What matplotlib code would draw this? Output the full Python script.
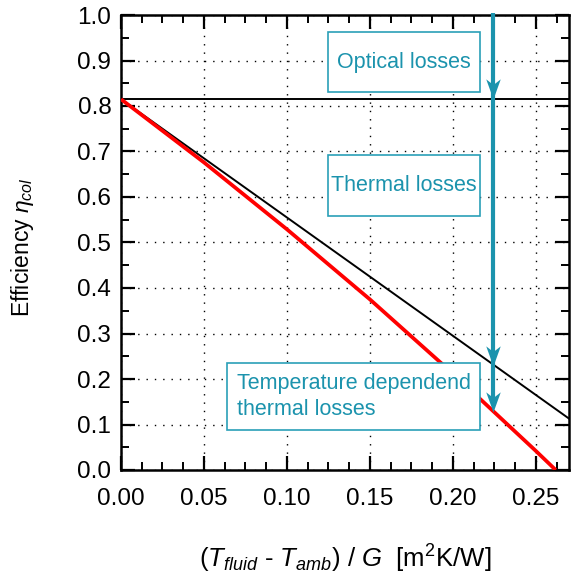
import matplotlib
matplotlib.use("Agg")
import matplotlib.pyplot as plt
from matplotlib.patches import Rectangle
from matplotlib.path import Path
from matplotlib.ticker import MultipleLocator

plt.rcParams['font.family'] = ['Liberation Sans', 'DejaVu Sans']
plt.rcParams['mathtext.fontset'] = 'custom'
plt.rcParams['mathtext.rm'] = 'Liberation Sans'
plt.rcParams['mathtext.it'] = 'Liberation Sans:italic'
plt.rcParams['mathtext.bf'] = 'Liberation Sans:bold'

# data
optical_eff = 0.815
black_x = [0.0, 0.27]
black_y = [0.815, 0.113]
red_x = [0.0, 0.05, 0.10, 0.15, 0.20, 0.25, 0.262]
red_y = [0.815, 0.676, 0.529, 0.375, 0.212, 0.042, 0.0]
arrow_x = 0.224
arrow_stops = [1.0, 0.815, 0.228, 0.128]

teal = '#1b93ad'
teal_box = '#2a9fb8'

fig = plt.figure(figsize=(5.71, 5.76), dpi=100)
ax = fig.add_axes([121/571, 106/576, 448/571, 455/576])

ax.set_xlim(0, 0.27)
ax.set_ylim(0, 1.0)

ax.axhline(optical_eff, color='black', lw=1.4, zorder=3)
ax.plot(black_x, black_y, color='black', lw=1.4, zorder=3)
ax.plot(red_x, red_y, color='#ff0000', lw=2.7, zorder=4, solid_capstyle='butt')

# text boxes
boxes = [
    (0.1247, 0.830, 0.0916, 0.133),
    (0.1247, 0.558, 0.0916, 0.134),
    (0.0639, 0.088, 0.1524, 0.147),
]
for (x0, y0, w, h) in boxes:
    ax.add_patch(Rectangle((x0, y0), w, h, facecolor='white', edgecolor=teal_box,
                           lw=1.2, zorder=5))
ax.text(0.1705, 0.896, 'Optical losses', color=teal, fontsize=15.5,
        ha='center', va='center', zorder=6)
ax.text(0.1705, 0.625, 'Thermal losses', color=teal, fontsize=15.5,
        ha='center', va='center', zorder=6)
ax.text(0.0698, 0.1615, 'Temperature dependend\nthermal losses', color=teal,
        fontsize=15.5, ha='left', va='center', zorder=6, linespacing=1.3)

# arrow
ax.plot([arrow_x, arrow_x], [1.004, arrow_stops[-1] + 0.02], color=teal,
        lw=3.0, zorder=7, clip_on=False, solid_capstyle='butt')
head = Path([(0, 0), (-0.36, 1.0), (0, 0.72), (0.36, 1.0), (0, 0)],
            [Path.MOVETO, Path.LINETO, Path.LINETO, Path.LINETO, Path.CLOSEPOLY])
for yv in arrow_stops[1:]:
    ax.plot([arrow_x], [yv], marker=head, markersize=29, color=teal,
            markeredgewidth=0, zorder=8, clip_on=False)

# ticks and grid
ax.xaxis.set_major_locator(MultipleLocator(0.05))
ax.xaxis.set_minor_locator(MultipleLocator(0.0125))
ax.yaxis.set_major_locator(MultipleLocator(0.1))
ax.yaxis.set_minor_locator(MultipleLocator(0.05))
ax.xaxis.set_major_formatter(matplotlib.ticker.FormatStrFormatter('%.2f'))
ax.yaxis.set_major_formatter(matplotlib.ticker.FormatStrFormatter('%.1f'))
ax.tick_params(which='both', direction='in', top=True, right=True, labelsize=17.5)
ax.tick_params(which='major', length=10, width=1.6)
ax.tick_params(which='minor', length=5.5, width=1.4)
ax.tick_params(axis='x', which='major', pad=13)
ax.tick_params(axis='y', which='major', pad=7)
ax.grid(True, which='major', color='black', linestyle=(0, (1, 5)), lw=1.0)
ax.set_axisbelow(True)
for s in ax.spines.values():
    s.set_linewidth(1.8)

ax.set_ylabel(r'Efficiency $\eta_{col}$', fontsize=16.5)
ax.yaxis.set_label_coords(-0.19, 0.49)
ax.set_xlabel(r'$\mathit{(T_{fluid}}$ - $\mathit{T_{amb})\ /\ G}$  [m$^2$K/W]', fontsize=18.5)
ax.xaxis.set_label_coords(0.5, -0.16)

fig.savefig('out.png', dpi=100)
